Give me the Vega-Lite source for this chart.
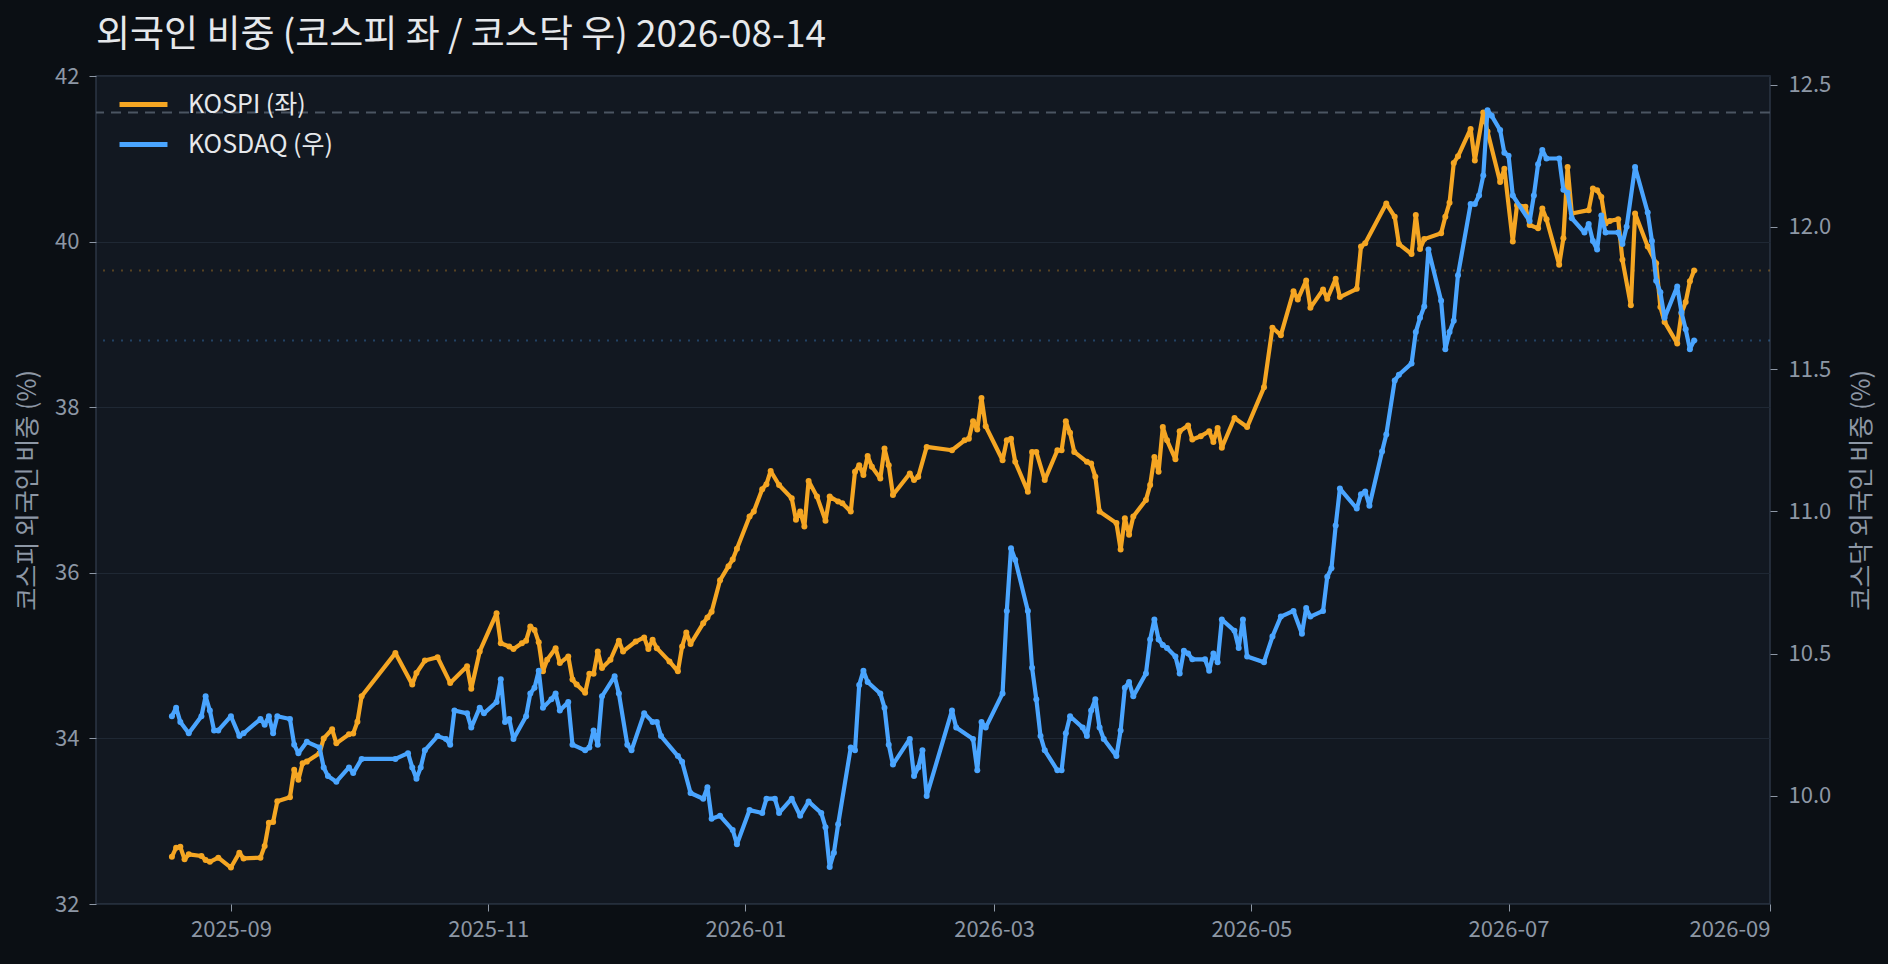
{
  "$schema": "https://vega.github.io/schema/vega-lite/v6.json",
  "width": 1674,
  "height": 828,
  "autosize": {"type": "none"},
  "padding": {"left": 96, "top": 76, "right": 118, "bottom": 60},
  "background": "#0b0f14",
  "title": {
    "text": "외국인 비중 (코스피 좌 / 코스닥 우) 2026-08-14",
    "anchor": "start",
    "frame": "group",
    "font": "Noto Sans CJK KR",
    "fontSize": 37,
    "fontWeight": "normal",
    "color": "#e6e8eb",
    "offset": 10
  },
  "datasets": {
    "kospi": [
      {"date": "2025-08-18", "value": 32.57}, {"date": "2025-08-19", "value": 32.68}, {"date": "2025-08-20", "value": 32.69},
      {"date": "2025-08-21", "value": 32.54}, {"date": "2025-08-22", "value": 32.60}, {"date": "2025-08-25", "value": 32.58},
      {"date": "2025-08-26", "value": 32.53}, {"date": "2025-08-27", "value": 32.51}, {"date": "2025-08-29", "value": 32.56},
      {"date": "2025-09-01", "value": 32.44}, {"date": "2025-09-03", "value": 32.62}, {"date": "2025-09-04", "value": 32.55},
      {"date": "2025-09-08", "value": 32.56}, {"date": "2025-09-09", "value": 32.70}, {"date": "2025-09-10", "value": 32.98},
      {"date": "2025-09-11", "value": 32.99}, {"date": "2025-09-12", "value": 33.24}, {"date": "2025-09-15", "value": 33.29},
      {"date": "2025-09-16", "value": 33.62}, {"date": "2025-09-17", "value": 33.50}, {"date": "2025-09-18", "value": 33.70},
      {"date": "2025-09-19", "value": 33.72}, {"date": "2025-09-22", "value": 33.82}, {"date": "2025-09-23", "value": 34.00},
      {"date": "2025-09-25", "value": 34.11}, {"date": "2025-09-26", "value": 33.94}, {"date": "2025-09-29", "value": 34.05},
      {"date": "2025-09-30", "value": 34.06}, {"date": "2025-10-01", "value": 34.20}, {"date": "2025-10-02", "value": 34.51},
      {"date": "2025-10-10", "value": 35.03}, {"date": "2025-10-14", "value": 34.65}, {"date": "2025-10-15", "value": 34.79},
      {"date": "2025-10-17", "value": 34.94}, {"date": "2025-10-20", "value": 34.98}, {"date": "2025-10-23", "value": 34.67},
      {"date": "2025-10-27", "value": 34.87}, {"date": "2025-10-28", "value": 34.60}, {"date": "2025-10-30", "value": 35.05},
      {"date": "2025-11-03", "value": 35.51}, {"date": "2025-11-04", "value": 35.15}, {"date": "2025-11-06", "value": 35.11},
      {"date": "2025-11-07", "value": 35.08}, {"date": "2025-11-09", "value": 35.15}, {"date": "2025-11-10", "value": 35.18},
      {"date": "2025-11-11", "value": 35.35}, {"date": "2025-11-12", "value": 35.31}, {"date": "2025-11-13", "value": 35.16},
      {"date": "2025-11-14", "value": 34.81}, {"date": "2025-11-15", "value": 34.95}, {"date": "2025-11-17", "value": 35.09},
      {"date": "2025-11-18", "value": 34.91}, {"date": "2025-11-20", "value": 34.99}, {"date": "2025-11-21", "value": 34.71},
      {"date": "2025-11-22", "value": 34.65}, {"date": "2025-11-24", "value": 34.55}, {"date": "2025-11-25", "value": 34.78},
      {"date": "2025-11-26", "value": 34.78}, {"date": "2025-11-27", "value": 35.05}, {"date": "2025-11-28", "value": 34.85},
      {"date": "2025-11-30", "value": 34.95}, {"date": "2025-12-02", "value": 35.18}, {"date": "2025-12-03", "value": 35.05},
      {"date": "2025-12-06", "value": 35.17}, {"date": "2025-12-08", "value": 35.22}, {"date": "2025-12-09", "value": 35.08},
      {"date": "2025-12-10", "value": 35.19}, {"date": "2025-12-11", "value": 35.09}, {"date": "2025-12-14", "value": 34.93},
      {"date": "2025-12-16", "value": 34.81}, {"date": "2025-12-17", "value": 35.11}, {"date": "2025-12-18", "value": 35.28},
      {"date": "2025-12-19", "value": 35.14}, {"date": "2025-12-22", "value": 35.39}, {"date": "2025-12-23", "value": 35.46},
      {"date": "2025-12-24", "value": 35.53}, {"date": "2025-12-26", "value": 35.91}, {"date": "2025-12-28", "value": 36.08},
      {"date": "2025-12-29", "value": 36.16}, {"date": "2025-12-30", "value": 36.29}, {"date": "2026-01-02", "value": 36.68},
      {"date": "2026-01-03", "value": 36.74}, {"date": "2026-01-05", "value": 37.01}, {"date": "2026-01-06", "value": 37.07},
      {"date": "2026-01-07", "value": 37.23}, {"date": "2026-01-09", "value": 37.06}, {"date": "2026-01-12", "value": 36.90},
      {"date": "2026-01-13", "value": 36.64}, {"date": "2026-01-14", "value": 36.74}, {"date": "2026-01-15", "value": 36.56},
      {"date": "2026-01-16", "value": 37.11}, {"date": "2026-01-18", "value": 36.92}, {"date": "2026-01-20", "value": 36.63},
      {"date": "2026-01-21", "value": 36.92}, {"date": "2026-01-23", "value": 36.86}, {"date": "2026-01-24", "value": 36.84},
      {"date": "2026-01-26", "value": 36.74}, {"date": "2026-01-27", "value": 37.22}, {"date": "2026-01-28", "value": 37.30},
      {"date": "2026-01-29", "value": 37.18}, {"date": "2026-01-30", "value": 37.41}, {"date": "2026-01-31", "value": 37.28},
      {"date": "2026-02-02", "value": 37.14}, {"date": "2026-02-03", "value": 37.50}, {"date": "2026-02-04", "value": 37.30},
      {"date": "2026-02-05", "value": 36.94}, {"date": "2026-02-09", "value": 37.20}, {"date": "2026-02-10", "value": 37.12},
      {"date": "2026-02-11", "value": 37.16}, {"date": "2026-02-13", "value": 37.52}, {"date": "2026-02-19", "value": 37.48},
      {"date": "2026-02-22", "value": 37.60}, {"date": "2026-02-23", "value": 37.62}, {"date": "2026-02-24", "value": 37.83},
      {"date": "2026-02-25", "value": 37.73}, {"date": "2026-02-26", "value": 38.11}, {"date": "2026-02-27", "value": 37.77},
      {"date": "2026-03-03", "value": 37.36}, {"date": "2026-03-04", "value": 37.60}, {"date": "2026-03-05", "value": 37.62},
      {"date": "2026-03-06", "value": 37.34}, {"date": "2026-03-09", "value": 36.98}, {"date": "2026-03-10", "value": 37.46},
      {"date": "2026-03-11", "value": 37.46}, {"date": "2026-03-13", "value": 37.12}, {"date": "2026-03-16", "value": 37.48},
      {"date": "2026-03-17", "value": 37.48}, {"date": "2026-03-18", "value": 37.83}, {"date": "2026-03-19", "value": 37.69},
      {"date": "2026-03-20", "value": 37.46}, {"date": "2026-03-23", "value": 37.34}, {"date": "2026-03-24", "value": 37.32},
      {"date": "2026-03-25", "value": 37.16}, {"date": "2026-03-26", "value": 36.74}, {"date": "2026-03-30", "value": 36.60},
      {"date": "2026-03-31", "value": 36.28}, {"date": "2026-04-01", "value": 36.66}, {"date": "2026-04-02", "value": 36.46},
      {"date": "2026-04-03", "value": 36.68}, {"date": "2026-04-06", "value": 36.88}, {"date": "2026-04-07", "value": 37.06},
      {"date": "2026-04-08", "value": 37.40}, {"date": "2026-04-09", "value": 37.22}, {"date": "2026-04-10", "value": 37.76},
      {"date": "2026-04-11", "value": 37.60}, {"date": "2026-04-13", "value": 37.37}, {"date": "2026-04-14", "value": 37.71},
      {"date": "2026-04-16", "value": 37.78}, {"date": "2026-04-17", "value": 37.61}, {"date": "2026-04-19", "value": 37.65},
      {"date": "2026-04-21", "value": 37.71}, {"date": "2026-04-22", "value": 37.58}, {"date": "2026-04-23", "value": 37.75},
      {"date": "2026-04-24", "value": 37.51}, {"date": "2026-04-27", "value": 37.87}, {"date": "2026-04-30", "value": 37.76},
      {"date": "2026-05-04", "value": 38.24}, {"date": "2026-05-06", "value": 38.96}, {"date": "2026-05-08", "value": 38.87},
      {"date": "2026-05-11", "value": 39.40}, {"date": "2026-05-12", "value": 39.30}, {"date": "2026-05-14", "value": 39.53},
      {"date": "2026-05-15", "value": 39.20}, {"date": "2026-05-18", "value": 39.42}, {"date": "2026-05-19", "value": 39.31},
      {"date": "2026-05-21", "value": 39.55}, {"date": "2026-05-22", "value": 39.33}, {"date": "2026-05-26", "value": 39.43},
      {"date": "2026-05-27", "value": 39.94}, {"date": "2026-05-28", "value": 39.98}, {"date": "2026-06-02", "value": 40.46},
      {"date": "2026-06-04", "value": 40.30}, {"date": "2026-06-05", "value": 39.97}, {"date": "2026-06-08", "value": 39.85},
      {"date": "2026-06-09", "value": 40.32}, {"date": "2026-06-10", "value": 39.91}, {"date": "2026-06-11", "value": 40.03},
      {"date": "2026-06-15", "value": 40.10}, {"date": "2026-06-16", "value": 40.30}, {"date": "2026-06-17", "value": 40.47},
      {"date": "2026-06-18", "value": 40.95}, {"date": "2026-06-19", "value": 41.03}, {"date": "2026-06-22", "value": 41.36},
      {"date": "2026-06-23", "value": 40.98}, {"date": "2026-06-25", "value": 41.56}, {"date": "2026-06-26", "value": 41.33},
      {"date": "2026-06-29", "value": 40.72}, {"date": "2026-06-30", "value": 40.88}, {"date": "2026-07-02", "value": 40.00},
      {"date": "2026-07-03", "value": 40.44}, {"date": "2026-07-05", "value": 40.42}, {"date": "2026-07-06", "value": 40.20},
      {"date": "2026-07-08", "value": 40.16}, {"date": "2026-07-09", "value": 40.40}, {"date": "2026-07-10", "value": 40.27},
      {"date": "2026-07-13", "value": 39.72}, {"date": "2026-07-14", "value": 40.04}, {"date": "2026-07-15", "value": 40.90},
      {"date": "2026-07-16", "value": 40.34}, {"date": "2026-07-20", "value": 40.38}, {"date": "2026-07-21", "value": 40.64},
      {"date": "2026-07-22", "value": 40.62}, {"date": "2026-07-23", "value": 40.54}, {"date": "2026-07-24", "value": 40.22},
      {"date": "2026-07-25", "value": 40.25}, {"date": "2026-07-27", "value": 40.27}, {"date": "2026-07-28", "value": 39.78},
      {"date": "2026-07-30", "value": 39.23}, {"date": "2026-07-31", "value": 40.34}, {"date": "2026-08-03", "value": 39.94},
      {"date": "2026-08-05", "value": 39.74}, {"date": "2026-08-06", "value": 39.21}, {"date": "2026-08-07", "value": 39.03},
      {"date": "2026-08-10", "value": 38.77}, {"date": "2026-08-11", "value": 39.13}, {"date": "2026-08-12", "value": 39.27},
      {"date": "2026-08-13", "value": 39.52}, {"date": "2026-08-14", "value": 39.65}
    ],
    "kosdaq": [
      {"date": "2025-08-18", "value": 10.28}, {"date": "2025-08-19", "value": 10.31}, {"date": "2025-08-20", "value": 10.26},
      {"date": "2025-08-22", "value": 10.22}, {"date": "2025-08-25", "value": 10.28}, {"date": "2025-08-26", "value": 10.35},
      {"date": "2025-08-27", "value": 10.30}, {"date": "2025-08-28", "value": 10.23}, {"date": "2025-08-29", "value": 10.23},
      {"date": "2025-09-01", "value": 10.28}, {"date": "2025-09-03", "value": 10.21}, {"date": "2025-09-04", "value": 10.22},
      {"date": "2025-09-08", "value": 10.27}, {"date": "2025-09-09", "value": 10.25}, {"date": "2025-09-10", "value": 10.28},
      {"date": "2025-09-11", "value": 10.22}, {"date": "2025-09-12", "value": 10.28}, {"date": "2025-09-15", "value": 10.27},
      {"date": "2025-09-16", "value": 10.18}, {"date": "2025-09-17", "value": 10.15}, {"date": "2025-09-19", "value": 10.19},
      {"date": "2025-09-22", "value": 10.17}, {"date": "2025-09-23", "value": 10.10}, {"date": "2025-09-24", "value": 10.07},
      {"date": "2025-09-26", "value": 10.05}, {"date": "2025-09-29", "value": 10.10}, {"date": "2025-09-30", "value": 10.08},
      {"date": "2025-10-02", "value": 10.13}, {"date": "2025-10-10", "value": 10.13}, {"date": "2025-10-13", "value": 10.15},
      {"date": "2025-10-14", "value": 10.10}, {"date": "2025-10-15", "value": 10.06}, {"date": "2025-10-16", "value": 10.10},
      {"date": "2025-10-17", "value": 10.16}, {"date": "2025-10-20", "value": 10.21}, {"date": "2025-10-22", "value": 10.20},
      {"date": "2025-10-23", "value": 10.18}, {"date": "2025-10-24", "value": 10.30}, {"date": "2025-10-27", "value": 10.29},
      {"date": "2025-10-28", "value": 10.24}, {"date": "2025-10-30", "value": 10.31}, {"date": "2025-10-31", "value": 10.29},
      {"date": "2025-11-03", "value": 10.33}, {"date": "2025-11-04", "value": 10.41}, {"date": "2025-11-05", "value": 10.26},
      {"date": "2025-11-06", "value": 10.27}, {"date": "2025-11-07", "value": 10.20}, {"date": "2025-11-10", "value": 10.28},
      {"date": "2025-11-11", "value": 10.36}, {"date": "2025-11-12", "value": 10.38}, {"date": "2025-11-13", "value": 10.44},
      {"date": "2025-11-14", "value": 10.31}, {"date": "2025-11-16", "value": 10.34}, {"date": "2025-11-17", "value": 10.36},
      {"date": "2025-11-18", "value": 10.30}, {"date": "2025-11-20", "value": 10.33}, {"date": "2025-11-21", "value": 10.18},
      {"date": "2025-11-24", "value": 10.16}, {"date": "2025-11-25", "value": 10.17}, {"date": "2025-11-26", "value": 10.23},
      {"date": "2025-11-27", "value": 10.18}, {"date": "2025-11-28", "value": 10.35}, {"date": "2025-12-01", "value": 10.42},
      {"date": "2025-12-02", "value": 10.36}, {"date": "2025-12-04", "value": 10.18}, {"date": "2025-12-05", "value": 10.16},
      {"date": "2025-12-08", "value": 10.29}, {"date": "2025-12-10", "value": 10.26}, {"date": "2025-12-11", "value": 10.26},
      {"date": "2025-12-12", "value": 10.21}, {"date": "2025-12-16", "value": 10.14}, {"date": "2025-12-17", "value": 10.12},
      {"date": "2025-12-19", "value": 10.01}, {"date": "2025-12-22", "value": 9.99}, {"date": "2025-12-23", "value": 10.03},
      {"date": "2025-12-24", "value": 9.92}, {"date": "2025-12-26", "value": 9.93}, {"date": "2025-12-29", "value": 9.88},
      {"date": "2025-12-30", "value": 9.83}, {"date": "2026-01-02", "value": 9.95}, {"date": "2026-01-05", "value": 9.94},
      {"date": "2026-01-06", "value": 9.99}, {"date": "2026-01-08", "value": 9.99}, {"date": "2026-01-09", "value": 9.94},
      {"date": "2026-01-12", "value": 9.99}, {"date": "2026-01-14", "value": 9.93}, {"date": "2026-01-16", "value": 9.98},
      {"date": "2026-01-19", "value": 9.94}, {"date": "2026-01-20", "value": 9.89}, {"date": "2026-01-21", "value": 9.75},
      {"date": "2026-01-22", "value": 9.80}, {"date": "2026-01-23", "value": 9.90}, {"date": "2026-01-26", "value": 10.17},
      {"date": "2026-01-27", "value": 10.16}, {"date": "2026-01-28", "value": 10.39}, {"date": "2026-01-29", "value": 10.44},
      {"date": "2026-01-30", "value": 10.40}, {"date": "2026-02-02", "value": 10.36}, {"date": "2026-02-03", "value": 10.31},
      {"date": "2026-02-04", "value": 10.18}, {"date": "2026-02-05", "value": 10.11}, {"date": "2026-02-09", "value": 10.20},
      {"date": "2026-02-10", "value": 10.07}, {"date": "2026-02-11", "value": 10.10}, {"date": "2026-02-12", "value": 10.16},
      {"date": "2026-02-13", "value": 10.00}, {"date": "2026-02-19", "value": 10.30}, {"date": "2026-02-20", "value": 10.24},
      {"date": "2026-02-24", "value": 10.20}, {"date": "2026-02-25", "value": 10.09}, {"date": "2026-02-26", "value": 10.26},
      {"date": "2026-02-27", "value": 10.24}, {"date": "2026-03-03", "value": 10.36}, {"date": "2026-03-04", "value": 10.65},
      {"date": "2026-03-05", "value": 10.87}, {"date": "2026-03-06", "value": 10.83}, {"date": "2026-03-09", "value": 10.65},
      {"date": "2026-03-10", "value": 10.45}, {"date": "2026-03-11", "value": 10.34}, {"date": "2026-03-12", "value": 10.21},
      {"date": "2026-03-13", "value": 10.16}, {"date": "2026-03-16", "value": 10.09}, {"date": "2026-03-17", "value": 10.09},
      {"date": "2026-03-18", "value": 10.22}, {"date": "2026-03-19", "value": 10.28}, {"date": "2026-03-22", "value": 10.24},
      {"date": "2026-03-23", "value": 10.21}, {"date": "2026-03-24", "value": 10.30}, {"date": "2026-03-25", "value": 10.34},
      {"date": "2026-03-26", "value": 10.24}, {"date": "2026-03-27", "value": 10.20}, {"date": "2026-03-30", "value": 10.14},
      {"date": "2026-03-31", "value": 10.23}, {"date": "2026-04-01", "value": 10.38}, {"date": "2026-04-02", "value": 10.40},
      {"date": "2026-04-03", "value": 10.35}, {"date": "2026-04-06", "value": 10.43}, {"date": "2026-04-07", "value": 10.55},
      {"date": "2026-04-08", "value": 10.62}, {"date": "2026-04-09", "value": 10.55}, {"date": "2026-04-10", "value": 10.53},
      {"date": "2026-04-11", "value": 10.52}, {"date": "2026-04-13", "value": 10.49}, {"date": "2026-04-14", "value": 10.43},
      {"date": "2026-04-15", "value": 10.51}, {"date": "2026-04-16", "value": 10.50}, {"date": "2026-04-17", "value": 10.48},
      {"date": "2026-04-20", "value": 10.48}, {"date": "2026-04-21", "value": 10.44}, {"date": "2026-04-22", "value": 10.50},
      {"date": "2026-04-23", "value": 10.47}, {"date": "2026-04-24", "value": 10.62}, {"date": "2026-04-27", "value": 10.58},
      {"date": "2026-04-28", "value": 10.52}, {"date": "2026-04-29", "value": 10.62}, {"date": "2026-04-30", "value": 10.49},
      {"date": "2026-05-04", "value": 10.47}, {"date": "2026-05-06", "value": 10.56}, {"date": "2026-05-08", "value": 10.63},
      {"date": "2026-05-11", "value": 10.65}, {"date": "2026-05-13", "value": 10.57}, {"date": "2026-05-14", "value": 10.66},
      {"date": "2026-05-15", "value": 10.63}, {"date": "2026-05-18", "value": 10.65}, {"date": "2026-05-19", "value": 10.77},
      {"date": "2026-05-20", "value": 10.80}, {"date": "2026-05-21", "value": 10.95}, {"date": "2026-05-22", "value": 11.08},
      {"date": "2026-05-26", "value": 11.01}, {"date": "2026-05-27", "value": 11.06}, {"date": "2026-05-28", "value": 11.07},
      {"date": "2026-05-29", "value": 11.02}, {"date": "2026-06-01", "value": 11.21}, {"date": "2026-06-02", "value": 11.27},
      {"date": "2026-06-04", "value": 11.46}, {"date": "2026-06-05", "value": 11.48}, {"date": "2026-06-08", "value": 11.52},
      {"date": "2026-06-09", "value": 11.63}, {"date": "2026-06-10", "value": 11.68}, {"date": "2026-06-11", "value": 11.72},
      {"date": "2026-06-12", "value": 11.92}, {"date": "2026-06-15", "value": 11.74}, {"date": "2026-06-16", "value": 11.57},
      {"date": "2026-06-17", "value": 11.63}, {"date": "2026-06-18", "value": 11.67}, {"date": "2026-06-19", "value": 11.83},
      {"date": "2026-06-22", "value": 12.08}, {"date": "2026-06-23", "value": 12.08}, {"date": "2026-06-24", "value": 12.11},
      {"date": "2026-06-25", "value": 12.18}, {"date": "2026-06-26", "value": 12.41}, {"date": "2026-06-27", "value": 12.39},
      {"date": "2026-06-29", "value": 12.34}, {"date": "2026-06-30", "value": 12.26}, {"date": "2026-07-01", "value": 12.25},
      {"date": "2026-07-02", "value": 12.11}, {"date": "2026-07-06", "value": 12.02}, {"date": "2026-07-07", "value": 12.11},
      {"date": "2026-07-08", "value": 12.22}, {"date": "2026-07-09", "value": 12.27}, {"date": "2026-07-10", "value": 12.24},
      {"date": "2026-07-13", "value": 12.24}, {"date": "2026-07-14", "value": 12.13}, {"date": "2026-07-15", "value": 12.12},
      {"date": "2026-07-16", "value": 12.03}, {"date": "2026-07-19", "value": 11.98}, {"date": "2026-07-20", "value": 12.01},
      {"date": "2026-07-21", "value": 11.95}, {"date": "2026-07-22", "value": 11.92}, {"date": "2026-07-23", "value": 12.04},
      {"date": "2026-07-24", "value": 11.98}, {"date": "2026-07-27", "value": 11.98}, {"date": "2026-07-28", "value": 11.94},
      {"date": "2026-07-29", "value": 12.00}, {"date": "2026-07-31", "value": 12.21}, {"date": "2026-08-03", "value": 12.05},
      {"date": "2026-08-04", "value": 11.95}, {"date": "2026-08-05", "value": 11.81}, {"date": "2026-08-06", "value": 11.77},
      {"date": "2026-08-07", "value": 11.68}, {"date": "2026-08-10", "value": 11.79}, {"date": "2026-08-11", "value": 11.70},
      {"date": "2026-08-12", "value": 11.64}, {"date": "2026-08-13", "value": 11.57}, {"date": "2026-08-14", "value": 11.60}
    ]
  },
  "layer": [
    {
      "data": {"name": "kospi"},
      "layer": [
        {
          "mark": {"type": "rule", "strokeDash": [10, 7], "color": "#4b5562", "strokeWidth": 2},
          "encoding": {
            "y": {
              "aggregate": "max", "field": "value", "type": "quantitative",
              "axis": {"title": "코스피 외국인 비중 (%)", "values": [32, 34, 36, 38, 40, 42], "grid": true, "labelPadding": 10, "titlePadding": 14}
            }
          }
        },
        {
          "mark": {"type": "rule", "strokeDash": [2, 7], "color": "#f5a623", "opacity": 0.3, "strokeWidth": 2},
          "encoding": {
            "y": {
              "aggregate": {"argmax": "date"}, "field": "value", "type": "quantitative",
              "axis": {"title": "코스피 외국인 비중 (%)", "values": [32, 34, 36, 38, 40, 42], "grid": true, "labelPadding": 10, "titlePadding": 14}
            }
          }
        },
        {
          "mark": {"type": "line", "strokeWidth": 4.2, "strokeJoin": "round", "point": {"size": 36, "filled": true}},
          "encoding": {
            "x": {
              "field": "date", "type": "temporal",
              "scale": {"type": "utc", "domain": [{"year": 2025, "month": 7, "date": 31, "utc": true}, {"year": 2026, "month": 9, "date": 1, "utc": true}]},
              "axis": {
                "title": null, "grid": false, "labelExpr": "utcFormat(datum.value, '%Y-%m')",
                "values": [
                  {"year": 2025, "month": 9, "date": 1, "utc": true}, {"year": 2025, "month": 11, "date": 1, "utc": true},
                  {"year": 2026, "month": 1, "date": 1, "utc": true}, {"year": 2026, "month": 3, "date": 1, "utc": true},
                  {"year": 2026, "month": 5, "date": 1, "utc": true}, {"year": 2026, "month": 7, "date": 1, "utc": true},
                  {"year": 2026, "month": 9, "date": 1, "utc": true}
                ],
                "labelPadding": 8
              }
            },
            "y": {
              "field": "value", "type": "quantitative",
              "scale": {"domain": [32, 42], "nice": false, "zero": false},
              "axis": {"title": "코스피 외국인 비중 (%)", "values": [32, 34, 36, 38, 40, 42], "grid": true, "labelPadding": 10, "titlePadding": 14}
            },
            "color": {
              "datum": "KOSPI (좌)",
              "scale": {"domain": ["KOSPI (좌)", "KOSDAQ (우)"], "range": ["#f5a623", "#4aa5ff"]},
              "legend": {
                "orient": "none", "legendX": 21, "legendY": 2, "title": null, "padding": 0,
                "symbolType": "stroke", "symbolSize": 2300, "symbolStrokeWidth": 5,
                "labelFontSize": 25, "labelColor": "#e6e8eb", "labelOffset": 18, "rowPadding": -4
              }
            }
          }
        }
      ]
    },
    {
      "data": {"name": "kosdaq"},
      "layer": [
        {
          "mark": {"type": "rule", "strokeDash": [2, 7], "color": "#4aa5ff", "opacity": 0.3, "strokeWidth": 2},
          "encoding": {
            "y": {
              "aggregate": {"argmax": "date"}, "field": "value", "type": "quantitative",
              "axis": {"orient": "right", "title": "코스닥 외국인 비중 (%)", "values": [10, 10.5, 11, 11.5, 12, 12.5], "format": ".1f", "grid": false, "titleAngle": 270, "labelPadding": 11, "titlePadding": 44}
            }
          }
        },
        {
          "mark": {"type": "line", "strokeWidth": 4.2, "strokeJoin": "round", "point": {"size": 36, "filled": true}},
          "encoding": {
            "x": {
              "field": "date", "type": "temporal",
              "scale": {"type": "utc", "domain": [{"year": 2025, "month": 7, "date": 31, "utc": true}, {"year": 2026, "month": 9, "date": 1, "utc": true}]},
              "axis": {
                "title": null, "grid": false, "labelExpr": "utcFormat(datum.value, '%Y-%m')",
                "values": [
                  {"year": 2025, "month": 9, "date": 1, "utc": true}, {"year": 2025, "month": 11, "date": 1, "utc": true},
                  {"year": 2026, "month": 1, "date": 1, "utc": true}, {"year": 2026, "month": 3, "date": 1, "utc": true},
                  {"year": 2026, "month": 5, "date": 1, "utc": true}, {"year": 2026, "month": 7, "date": 1, "utc": true},
                  {"year": 2026, "month": 9, "date": 1, "utc": true}
                ],
                "labelPadding": 8
              }
            },
            "y": {
              "field": "value", "type": "quantitative",
              "scale": {"domain": [9.62, 12.53], "nice": false, "zero": false},
              "axis": {"orient": "right", "title": "코스닥 외국인 비중 (%)", "values": [10, 10.5, 11, 11.5, 12, 12.5], "format": ".1f", "grid": false, "titleAngle": 270, "labelPadding": 11, "titlePadding": 44}
            },
            "color": {"datum": "KOSDAQ (우)"}
          }
        }
      ]
    }
  ],
  "resolve": {"scale": {"y": "independent"}},
  "config": {
    "font": "Noto Sans CJK KR",
    "view": {"stroke": "#2c3644", "strokeWidth": 1.5, "fill": "#121821"},
    "axis": {
      "labelColor": "#8d97a5", "titleColor": "#8d97a5", "labelFontSize": 22, "titleFontSize": 25,
      "titleFontWeight": "normal", "tickColor": "#8d97a5", "tickSize": 7, "domain": false,
      "gridColor": "#1f2834", "gridWidth": 1.2, "labelFont": "Noto Sans CJK KR", "titleFont": "Noto Sans CJK KR"
    },
    "legend": {"labelFont": "Noto Sans CJK KR"}
  }
}
